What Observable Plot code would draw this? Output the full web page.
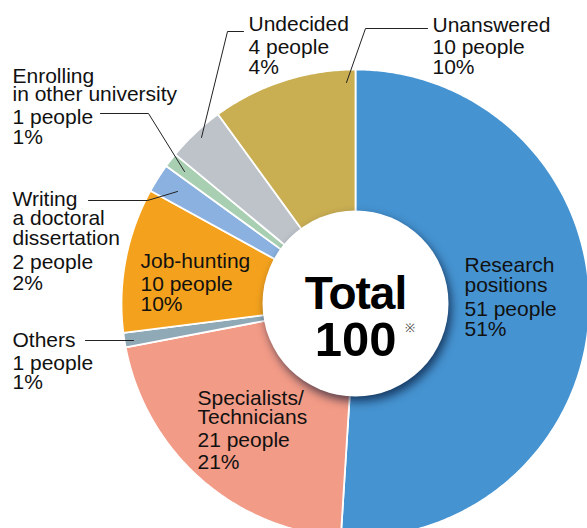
<!DOCTYPE html>
<html>
<head>
<meta charset="utf-8">
<script src="https://cdn.jsdelivr.net/npm/d3@7"></script>
<script src="https://cdn.jsdelivr.net/npm/@observablehq/plot@0.6"></script>
<style>
  html, body { margin: 0; padding: 0; background: #fff; }
  #chart svg { display: block; overflow: hidden; }
</style>
</head>
<body>
<div id="chart"></div>
<script>
// ---- data ----
const categories = ["Research positions", "Specialists/Technicians", "Others", "Job-hunting",
  "Writing a doctoral dissertation", "Enrolling in other university", "Undecided", "Unanswered"];
const people = [51, 21, 1, 10, 2, 1, 4, 10];
const percents = [51, 21, 1, 10, 2, 1, 4, 10];
const nameLines = [
  ["Research", "positions"],
  ["Specialists/", "Technicians"],
  ["Others"],
  ["Job-hunting"],
  ["Writing", "a doctoral", "dissertation"],
  ["Enrolling", "in other university"],
  ["Undecided"],
  ["Unanswered"]
];
const colors = ["#4593d1", "#f29b87", "#8fa9b6", "#f4a21d", "#8ab1df", "#a9cfb3", "#bec3ca", "#c9ae52"];
const totalLabel = "Total";
const totalValue = 100;

// ---- layout (pixels) ----
const W = 587, H = 528, CX = 355, CY = 303, R = 234, RIN = 93;
const px = (x) => (x - CX) / R;
const py = (y) => (CY - y) / R;
const labelLayout = [
  {x: 464, base: [271, 291, 315, 335]},
  {x: 197, base: [404, 423, 446, 468]},
  {x: 12,  base: [346, 369, 388]},
  {x: 140, base: [267, 290, 310]},
  {x: 12,  base: [205, 224, 244, 268, 289]},
  {x: 12,  base: [82, 100, 123, 143]},
  {x: 248, base: [30, 53, 73]},
  {x: 432, base: [31, 53, 73]}
];
const leaderLayout = [
  {i: 6, pts: [[243, 31], [227, 31], [201, 137]]},
  {i: 7, pts: [[427, 28], [365, 28], [346, 82]]},
  {i: 5, pts: [[100, 113], [148, 113], [184, 171]]},
  {i: 4, pts: [[88, 200], [147, 200], [177, 191]]},
  {i: 2, pts: [[85, 340], [133, 340]]}
];

// ---- slices as polygons in data space (unit radius) ----
const total = d3.sum(people);
const slicePts = [];
let acc = 0;
people.forEach((v, i) => {
  const a0 = acc / total * 2 * Math.PI;
  acc += v;
  const a1 = acc / total * 2 * Math.PI;
  slicePts.push({cat: categories[i], x: 0, y: 0});
  const n = Math.max(4, Math.ceil((a1 - a0) / 0.01));
  for (let k = 0; k <= n; k++) {
    const a = a0 + (a1 - a0) * k / n;
    slicePts.push({cat: categories[i], x: Math.sin(a), y: Math.cos(a)});
  }
});

// ---- label lines ----
const textRows = [];
categories.forEach((c, i) => {
  const lines = [...nameLines[i], `${people[i]} people`, `${percents[i]}%`];
  lines.forEach((t, k) => textRows.push({text: t, x: px(labelLayout[i].x), y: py(labelLayout[i].base[k])}));
});

const leaderRows = [];
leaderLayout.forEach((l) => l.pts.forEach(([x, y]) => leaderRows.push({id: categories[l.i], x: px(x), y: py(y)})));

const chart = Plot.plot({
  width: W, height: H,
  margin: 0,
  x: {domain: [px(0), px(W)], axis: null},
  y: {domain: [py(H), py(0)], axis: null},
  color: {domain: categories, range: colors},
  style: {fontFamily: "'Liberation Sans', Arial, Helvetica, sans-serif", background: "#fff"},
  marks: [
    Plot.line(slicePts, {x: "x", y: "y", z: "cat", fill: "cat", stroke: "#fff", strokeWidth: 1.8, curve: "linear-closed"}),
    Plot.line(leaderRows, {x: "x", y: "y", z: "id", stroke: "#222", strokeWidth: 1}),
    Plot.dot([0], {x: () => 0, y: () => 0, r: RIN, fill: "#fff", stroke: "none"}),
    Plot.text(textRows, {x: "x", y: "y", text: "text", textAnchor: "start", lineAnchor: "bottom", fontSize: 21, fill: "#111"}),
    Plot.text([totalLabel], {x: () => 0, y: () => py(308), text: (d) => d, textAnchor: "middle", lineAnchor: "bottom", fontSize: 46, fontWeight: "bold", fill: "#000"}),
    Plot.text([totalValue], {x: () => 0, y: () => py(355), text: (d) => String(d), textAnchor: "middle", lineAnchor: "bottom", fontSize: 49, fontWeight: "bold", fill: "#000"}),
    Plot.text(["※"], {x: () => px(409), y: () => py(331), text: (d) => d, textAnchor: "middle", lineAnchor: "bottom", fontSize: 12, fill: "#444"})
  ]
});
document.getElementById("chart").appendChild(chart);
const dot = chart.querySelector("g[aria-label='dot'] circle");
if (dot) dot.style.filter = "drop-shadow(3px 5px 5px rgba(0,10,40,0.65))";
chart.querySelectorAll("g[aria-label='text'] text").forEach(t => {
  if (t.textContent === "Total") t.setAttribute("letter-spacing", "-1");
});
</script>
</body>
</html>
